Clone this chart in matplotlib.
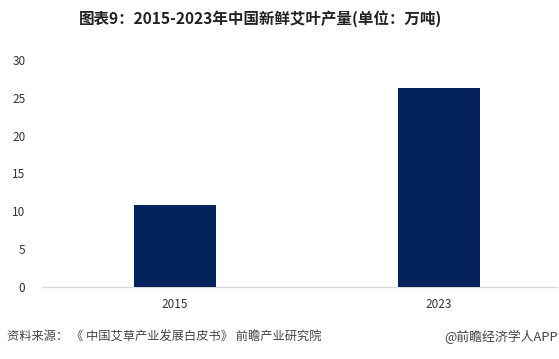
import matplotlib
matplotlib.use("Agg")
import matplotlib.pyplot as plt

plt.rcParams['font.family'] = ['Noto Sans CJK SC', 'DejaVu Sans']

categories = ["2015", "2023"]
values = [10.8, 26.3]
yticks = [0, 5, 10, 15, 20, 25, 30]

W, H = 559, 359
fig = plt.figure(figsize=(W/100, H/100), dpi=100)
ax = fig.add_axes([42/W, 1-287/H, (557-42)/W, (287-60)/H])

x = list(range(len(categories)))
ax.bar(x, values, width=0.31, color="#03215B", zorder=3)
ax.set_xlim(-0.504, 1.447)
ax.set_ylim(0, 30)
ax.set_yticks(yticks)
ax.set_yticklabels([str(t) for t in yticks])
ax.set_xticks(x)
ax.set_xticklabels(categories)
for s in ["top", "right", "left"]:
    ax.spines[s].set_visible(False)
ax.spines["bottom"].set_color("#D9D9D9")
ax.spines["bottom"].set_linewidth(1.0)
ax.tick_params(axis="both", length=0, labelsize=8.5, labelcolor="#333333")
ax.tick_params(axis="y", pad=12)
ax.tick_params(axis="x", pad=8)

fig.text(261/W, 1-19/H, "图表9：2015-2023年中国新鲜艾叶产量(单位：万吨)", ha="center", va="center",
         fontsize=11.2, fontweight="bold", color="#222222")
fig.text(7/W, 1-337/H, "资料来源： 《 中国艾草产业发展白皮书》 前瞻产业研究院", ha="left", va="center",
         fontsize=8.8, color="#444444")
fig.text(558/W, 1-337/H, "@前瞻经济学人APP", ha="right", va="center",
         fontsize=9.3, color="#444444")

fig.savefig("out.png", dpi=100)
